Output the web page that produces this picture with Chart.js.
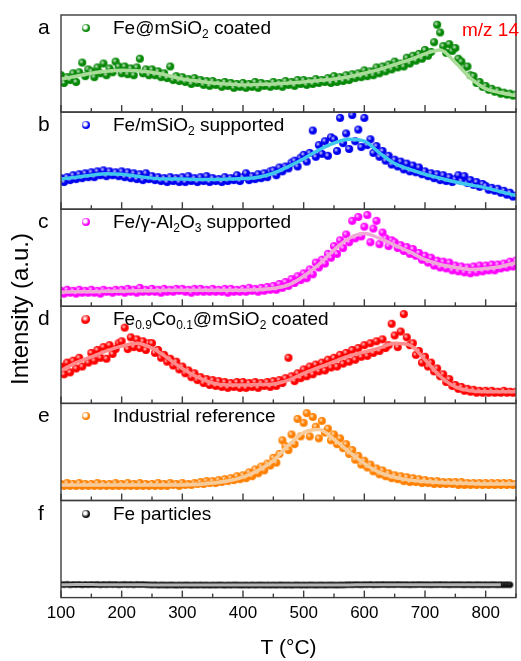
<!DOCTYPE html>
<html>
<head>
<meta charset="utf-8">
<script src="https://cdn.jsdelivr.net/npm/chart.js@4.4.0/dist/chart.umd.min.js"></script>
<style>
  body { margin: 0; background: #fff; }
  #wrap { position: relative; width: 521px; height: 661px; font-family: "Liberation Sans", Arial, sans-serif; }
  #wrap canvas { position: absolute; left: 0; top: 0; }
  .lbl { position: absolute; font-size: 19px; line-height: 20px; color: #000; white-space: nowrap; }
  .lbl sub { font-size: 12px; vertical-align: -4px; line-height: 0; }
  .let { position: absolute; font-size: 21px; line-height: 22px; color: #000; }
  .dot { position: absolute; width: 8px; height: 8px; border-radius: 50%; }
  #ylab { position: absolute; left: 20px; top: 309px; font-size: 24px; white-space: nowrap;
          transform: translate(-50%, -50%) rotate(-90deg); }
  #mz { position: absolute; right: 2px; top: 19px; font-size: 19px; line-height: 22px; color: #ff0000; }
</style>
</head>
<body>
<div id="wrap">
  <canvas id="tpd" width="521" height="661"></canvas>
  <div id="ylab">Intensity (a.u.)</div>
  <div id="mz">m/z 14</div>
</div>
<script>
// temperature grid of the measured points (°C)
const temps = [
  100,105,110,115,120,125,130,135,140,145,
  150,155,160,165,170,175,180,185,190,195,
  200,205,210,215,220,225,230,235,240,245,
  250,255,260,265,270,275,280,285,290,295,
  300,305,310,315,320,325,330,335,340,345,
  350,355,360,365,370,375,380,385,390,395,
  400,405,410,415,420,425,430,435,440,445,
  450,455,460,465,470,475,480,485,490,495,
  500,505,510,515,520,525,530,535,540,545,
  550,555,560,565,570,575,580,585,590,595,
  600,605,610,615,620,625,630,635,640,645,
  650,655,660,665,670,675,680,685,690,695,
  700,705,710,715,720,725,730,735,740,745,
  750,755,760,765,770,775,780,785,790,795,
  800,805,810,815,820,825,830,835,840,845,
  850
];
// temperatures of the fitted curves
const fitTemps = [100,125,150,175,200,225,250,275,300,325,350,375,400,425,450,475,
  500,525,550,575,600,625,650,675,700,725,750,775,800,825,850];

// intensities, in % of each panel height
const aPoints = [
  38,30,36,33,40,31,41,51,37,44, 42,36,46,40,50,38,45,41,52,47,
  40,47,39,45,38,46,55,40,44,38, 44,38,42,36,40,35,47,33,37,32,
  36,31,34,29,35,30,33,28,32,27, 32,28,30,26,31,27,30,25,29,26,
  30,25,29,26,31,25,30,27,29,26, 31,27,30,26,32,28,31,27,33,29,
  33,28,32,29,34,30,33,31,35,30, 37,31,36,32,38,33,39,35,40,36,
  43,37,42,38,46,40,47,42,49,44, 52,46,50,47,56,50,58,53,60,55,
  64,58,62,72,90,82,68,61,70,63, 66,55,52,46,47,38,37,30,31,26,
  27,23,24,21,22,19,20,18,19,17, 18
];
const aFit = [34,37,40,42,43,42.5,41,38,34,32,30,29,28,28.5,29,30,31,32.5,34,36.5,
  40,44,49,54,60,64,51,35,24,20,17];

const bPoints = [
  32,28,33,30,35,31,36,32,37,33, 38,33,39,35,40,34,39,35,38,34,
  39,33,38,32,37,31,36,30,37,31, 34,30,33,29,32,28,33,29,32,28,
  33,28,34,29,32,28,33,29,34,28, 32,29,31,28,33,29,32,30,35,29,
  33,37,30,34,31,36,32,37,33,39, 40,35,43,39,44,42,48,50,44,53,
  56,49,58,81,54,66,57,70,55,74, 72,60,94,68,78,62,97,70,82,64,
  94,66,72,58,65,54,60,50,55,46, 51,44,49,41,47,39,45,38,43,36,
  39,34,37,32,36,30,35,29,33,28, 31,35,29,34,27,30,25,28,23,26,
  24,20,22,19,21,17,19,15,17,13, 14
];
const bFit = [31,33,35,36.5,36,34,32,31,31,30.5,30.5,31,31.5,33,37,44,52,61,68,72,
  70,58,47,41,36,32,28,25,22,18,14];

const cPoints = [
  16,13,17,14,16,13,17,14,16,14, 17,14,16,13,17,15,16,14,17,15,
  17,14,18,15,17,14,19,15,17,15, 18,15,17,14,18,15,17,15,18,16,
  18,15,17,14,18,15,18,15,17,15, 18,15,17,15,18,14,18,15,17,15,
  18,15,19,16,18,15,19,16,20,17, 21,17,23,19,25,21,28,24,31,27,
  34,29,38,33,45,40,48,44,54,50, 62,54,68,60,74,66,88,70,92,72,
  82,94,66,80,88,64,76,70,62,68, 66,60,63,57,61,54,59,52,55,48,
  52,45,50,42,47,40,46,39,45,37, 42,36,41,35,40,34,41,35,42,36,
  42,37,43,37,43,39,44,40,46,41, 47
];
const cFit = [14.5,15,15,15.5,15.5,16,16,16.5,16.5,16.5,16.5,16.5,16.5,17,18.5,22,
  31,43,58,70,75,70,63,56,48,43,40,38,39,41,45];

const dPoints = [
  38,30,42,32,44,36,47,38,86,42, 52,44,55,47,58,46,60,51,56,62,
  64,78,56,68,58,66,57,64,55,62, 62,52,55,47,50,43,46,39,43,35,
  38,31,34,27,31,24,27,21,25,19, 24,18,23,17,22,16,21,17,22,16,
  22,16,21,17,22,16,21,18,22,17, 23,18,24,21,26,47,28,23,31,26,
  35,28,38,30,40,33,42,34,45,37, 47,38,50,41,52,43,55,45,57,48,
  60,49,62,52,64,54,66,57,60,82, 70,58,74,92,68,60,62,50,54,42,
  48,38,42,33,36,28,30,22,25,18, 19,15,17,13,15,12,14,11,13,11,
  13,11,13,11,12,11,13,11,12,11, 12
];
const dFit = [34,42,48,54,59,62,57,47,36,27,21,19,19,19.5,20,24,31,37,43,49,
  53,57,62,60,45,28,17,13,12,12,12];

const ePoints = [
  17,15,18,15,17,15,18,15,17,15, 17,15,18,15,17,15,17,15,18,15,
  17,15,18,15,17,15,18,15,17,15, 17,15,18,15,17,15,18,16,17,15,
  18,16,17,16,18,17,19,17,20,18, 20,18,21,19,22,20,23,21,25,22,
  26,23,29,25,32,28,35,31,38,36, 44,39,48,62,56,52,68,58,84,66,
  80,90,66,86,76,64,82,70,74,62, 68,58,64,54,58,48,52,42,46,37,
  41,34,37,30,33,27,31,25,28,23, 26,22,25,20,24,19,23,19,22,18,
  21,18,20,17,20,17,19,17,19,17, 19,16,19,16,18,16,18,16,18,16,
  18,16,18,16,18,16,18,16,18,16, 17
];
const eFit = [16,16,16,16,16,16,16,16,16,16.5,18,20,24,31,41,57,70,73,63,50,
  38,29,24,21,19.5,18.5,18,17.5,17,17,17];

const fPoints = [
  13.6,13.3,13.7,13.2,13.5,13.4,13.6,13.2,13.5,13.3, 13.5,13.4,13.6,13.2,13.5,13.3,13.6,13.4,13.5,13.2,
  13.4,13.6,13.3,13.5,13.2,13.6,13.4,13.5,13.3,13.2, 13.0,13.2,12.9,13.1,13.0,12.9,13.1,13.0,12.8,13.0,
  12.9,13.1,13.0,12.8,13.0,12.9,13.1,12.9,13.0,12.8, 13.0,12.9,13.1,13.0,12.8,13.0,12.9,13.1,13.0,12.9,
  12.9,13.0,12.8,13.1,12.9,13.0,13.1,12.9,13.0,12.9, 13.0,12.9,13.1,13.0,12.9,13.0,12.8,13.0,13.1,12.9,
  13.0,12.9,13.1,13.0,12.9,13.0,13.1,12.9,13.0,13.1, 13.0,12.9,13.1,13.0,13.2,13.3,13.2,13.4,13.3,13.2,
  13.4,13.3,13.5,13.2,13.4,13.3,13.5,13.4,13.3,13.4, 13.3,13.5,13.4,13.3,13.4,13.2,13.4,13.3,13.5,13.4,
  13.3,13.4,13.2,13.4,13.3,13.5,13.3,13.4,13.2,13.4, 13.3,13.4,13.3,13.2,13.4,13.3,13.2,13.4,13.3,13.2,
  13.3,13.2,13.4,13.3,13.2,13.3,13.2,13.3,13.2,null, null
];
const fFit = [13.3,13.4,13.4,13.3,13.3,13.2,13.0,13.0,13.0,12.95,12.95,12.95,12.95,12.95,12.95,12.95,
  13.0,13.0,13.0,13.1,13.3,13.35,13.35,13.35,13.35,13.35,13.3,13.3,13.3,13.3,null];

const panelLetters = ['a', 'b', 'c', 'd', 'e', 'f'];
const seriesNames = [
  'Fe@mSiO<sub>2</sub> coated',
  'Fe/mSiO<sub>2</sub> supported',
  'Fe/&gamma;-Al<sub>2</sub>O<sub>3</sub> supported',
  'Fe<sub>0.9</sub>Co<sub>0.1</sub>@mSiO<sub>2</sub> coated',
  'Industrial reference',
  'Fe particles'
];
const xTickValues = [100,150,200,250,300,350,400,450,500,550,600,650,700,750,800,850];

const panels = [
  { id: 'ya', pts: aPoints, fit: aFit, dot: '#078807', line: '#a8dc98', r: 4, hl: 0.85 },
  { id: 'yb', pts: bPoints, fit: bFit, dot: '#0000f0', line: '#3fc8ec', r: 4, hl: 0.85 },
  { id: 'yc', pts: cPoints, fit: cFit, dot: '#ff00ff', line: '#eeaad6', r: 4, hl: 0.85 },
  { id: 'yd', pts: dPoints, fit: dFit, dot: '#ff0000', line: '#ff8c8c', r: 4, hl: 0.85 },
  { id: 'ye', pts: ePoints, fit: eFit, dot: '#ff8000', line: '#f6cc9c', r: 4, hl: 0.85 },
  { id: 'yf', pts: fPoints, fit: fFit, dot: '#111111', line: '#b4b4b4', r: 3.3, hl: 0.2 }
];

// small shaded ball used as point marker
function ball(color, r, hl) {
  const c = document.createElement('canvas');
  const s = Math.ceil(r * 2 + 2);
  c.width = c.height = s;
  const g = c.getContext('2d');
  const m = s / 2;
  g.beginPath(); g.arc(m, m, r, 0, Math.PI * 2); g.fillStyle = color; g.fill();
  const hx = m - r * 0.25, hy = m - r * 0.25;
  const grd = g.createRadialGradient(hx, hy, 0, hx, hy, r * 0.6);
  grd.addColorStop(0, 'rgba(255,255,255,' + hl + ')');
  grd.addColorStop(1, 'rgba(255,255,255,0)');
  g.fillStyle = grd;
  g.beginPath(); g.arc(m, m, r, 0, Math.PI * 2); g.fill();
  return c;
}

const datasets = [];
panels.forEach(p => {
  datasets.push({
    label: p.id + ' fit',
    data: fitTemps.map((t, i) => ({ x: t, y: p.fit[i] })),
    yAxisID: p.id,
    showLine: true,
    borderColor: p.line,
    borderWidth: p.id === 'yf' ? 3 : 3.5,
    pointRadius: 0,
    cubicInterpolationMode: 'monotone',
    order: 0
  });
  datasets.push({
    label: p.id,
    data: temps.map((t, i) => ({ x: t, y: p.pts[i] })),
    yAxisID: p.id,
    pointStyle: ball(p.dot, p.r, p.hl),
    pointRadius: p.r,
    order: 1
  });
});

const scales = {
  x: {
    type: 'linear', min: 100, max: 850, position: 'bottom',
    grid: { display: false, drawTicks: false },
    border: { display: false },
    afterBuildTicks: s => { s.ticks = [100,200,300,400,500,600,700,800].map(v => ({ value: v })); },
    ticks: { padding: 6, color: '#000', autoSkip: false, maxRotation: 0,
             font: { family: 'Liberation Sans', size: 17 } },
    title: { display: true, text: 'T (°C)', color: '#000',
             font: { family: 'Liberation Sans', size: 21, lineHeight: 1 },
             padding: { top: 8, bottom: 2 } }
  }
};
// left stacked axes: last defined ends up on top
panels.slice().reverse().forEach(p => {
  scales[p.id] = {
    type: 'linear', position: 'left', stack: 'panels', stackWeight: 1,
    min: 0, max: 100,
    grid: { display: false, drawTicks: false },
    border: { display: false },
    ticks: { display: false }
  };
});

const frames = {
  id: 'frames',
  afterDatasetsDraw(chart) {
    const ctx = chart.ctx;
    const x = chart.scales.x;
    const { left, right } = chart.chartArea;
    ctx.save();
    ctx.strokeStyle = '#3c3c3c';
    ctx.lineWidth = 1.4;
    panels.forEach(p => {
      const s = chart.scales[p.id];
      ctx.strokeRect(left, s.top, right - left, s.bottom - s.top);
      xTickValues.forEach(v => {
        const px = x.getPixelForValue(v);
        const len = v % 100 === 0 ? 7 : 4;
        ctx.beginPath();
        ctx.moveTo(px, s.bottom);
        ctx.lineTo(px, s.bottom - len);
        ctx.stroke();
      });
    });
    ctx.restore();
  }
};

const chart = new Chart(document.getElementById('tpd'), {
  type: 'scatter',
  data: { datasets: datasets },
  options: {
    responsive: false,
    animation: false,
    layout: { padding: { left: 61, right: 3, top: 15, bottom: 0 } },
    plugins: { legend: { display: false }, tooltip: { enabled: false } },
    scales: scales
  },
  plugins: [frames]
});

// panel letters and legend entries
const wrap = document.getElementById('wrap');
panels.forEach((p, i) => {
  const cy = chart.scales[p.id].top + 13;
  const let_ = document.createElement('div');
  let_.className = 'let';
  let_.style.left = '38px';
  let_.style.top = (cy - 12) + 'px';
  let_.textContent = panelLetters[i];
  wrap.appendChild(let_);

  const dot = document.createElement('div');
  dot.className = 'dot';
  dot.style.left = '82px';
  dot.style.top = (cy - 4) + 'px';
  dot.style.background = 'radial-gradient(circle at 40% 40%, #fff 0, rgba(255,255,255,0.6) 20%, ' + p.dot + ' 55%)';
  wrap.appendChild(dot);

  const lbl = document.createElement('div');
  lbl.className = 'lbl';
  lbl.style.left = '113px';
  lbl.style.top = (cy - 10) + 'px';
  lbl.innerHTML = seriesNames[i];
  wrap.appendChild(lbl);
});
</script>
</body>
</html>
